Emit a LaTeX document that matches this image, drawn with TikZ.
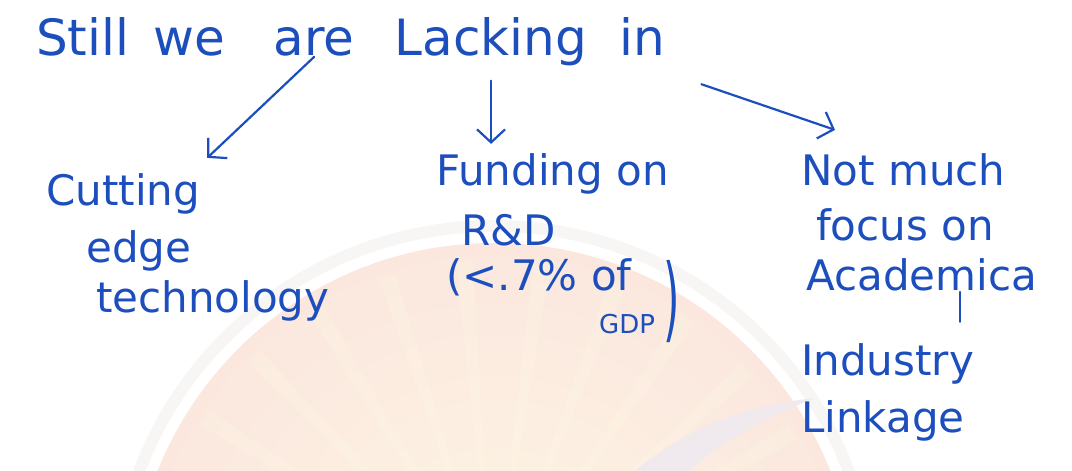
\documentclass[tikz,border=0pt]{standalone}
\usepackage{fontspec}
\usepackage{graphicx}
\setmainfont{DejaVu Sans}
\usetikzlibrary{arrows.meta,positioning}

\definecolor{inkblue}{RGB}{28,78,190}
\definecolor{halo}{RGB}{248,246,244}
\definecolor{blush}{RGB}{251,231,222}
\definecolor{cream}{RGB}{253,246,228}
\definecolor{swoosh}{RGB}{240,233,238}

\begin{document}
\begin{tikzpicture}[x=1pt,y=-1pt,
  word/.style={text=inkblue,font=\fontsize{50}{54}\selectfont,inner sep=1pt,anchor=base west},
  line/.style={text=inkblue,font=\fontsize{42}{46}\selectfont,inner sep=1pt,anchor=base west},
  tiny/.style={line,font=\fontsize{26}{30}\selectfont},
  arr/.style={draw=inkblue,line width=2.2pt,line cap=round,-{Straight Barb[length=13pt,width=28pt,line width=2.2pt]}},
  node distance=20pt]
\useasboundingbox (0,0) rectangle (1072,471);
\clip (0,0) rectangle (1072,471);
\fill[white] (0,0) rectangle (1072,471);
% faint watermark behind the notes
\fill[halo] (494,605) circle (385);
\fill[white] (494,605) circle (373);
\shade[inner color=cream,outer color=blush] (494,605) circle (362);
\foreach \a in {200,213,...,340}
  \fill[cream,opacity=.35] (494,605) -- +(\a-1.4:345) -- +(\a+1.4:345) -- cycle;
\fill[swoosh] (635,471) .. controls (690,425) and (750,405) .. (815,398)
  .. controls (760,420) and (715,445) .. (690,471) -- cycle;

% heading
\node[word] (still) at (35,55) {Still};
\node[word, base right=22pt of still] (we) {we};
\node[word, base right=46pt of we] (are) {are};
\node[word, base right=38pt of are] (lacking) {Lacking};
\node[word, base right=30pt of lacking] (in) {in};

% left branch
\node[line] (cut) at (45,205) {Cutting};
\node[line] (edge) at (85,262) {edge};
\node[line] (tech) at (95,312) {technology};

% middle branch
\node[line] (fund) at (435,185) {Funding on};
\node[line] (rd) at (460,245) {R\&D};
\node[line] (pct) at (445,290) {(<.7\% of};
\node[tiny] (gdp) at (598,333) {GDP};
\node[line] (close) at (662,330) {\scalebox{1}[2.2]{)}};

% right branch
\node[line] (not) at (800,185) {Not much};
\node[line] (focus) at (815,240) {focus on};
\node[line] (acad) at (805,290) {Academica};
\node[line] (indus) at (800,375) {Industry};
\node[line] (link) at (800,432) {Linkage};
\draw[inkblue,line width=2pt,line cap=round,shorten >=20pt] ([xshift=38pt]acad.south) -- ([xshift=38pt]acad.south |- indus.north);

% arrows
\draw[arr] (are.south) -- ([shift={(6,-14)}]cut.north east);
\draw[arr,shorten <=14pt,shorten >=8pt] (lacking.south) -- (lacking.south |- fund.north);
\draw[arr] ([shift={(35,28)}]in.south east) -- ([shift={(35,-22)}]not.north west);
\end{tikzpicture}
\end{document}
